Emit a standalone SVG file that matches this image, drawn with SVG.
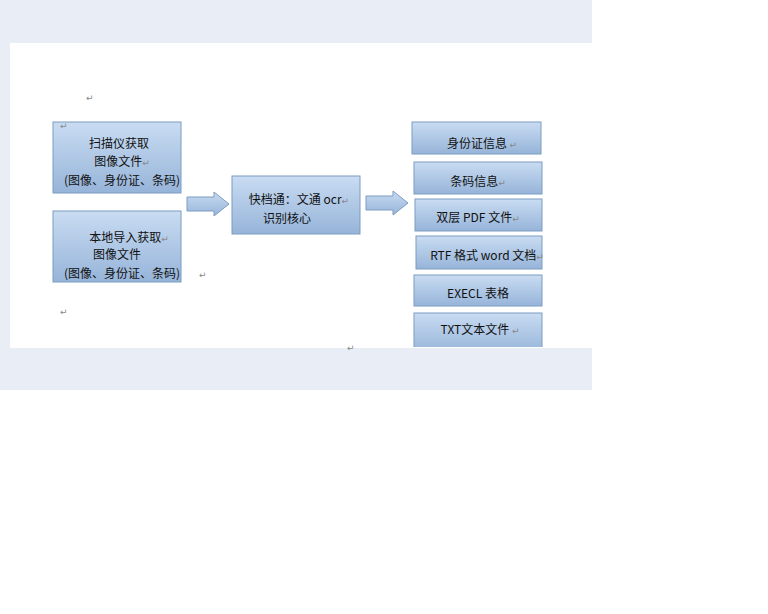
<svg xmlns="http://www.w3.org/2000/svg" width="768" height="614" viewBox="0 0 768 614">
<defs>
<linearGradient id="g" x1="0" y1="0" x2="0" y2="1"><stop offset="0" stop-color="#c9dcf2"/><stop offset="1" stop-color="#96b4d9"/></linearGradient>
<clipPath id="pg"><rect x="10" y="43" width="582" height="304"/></clipPath>
</defs>
<style>
.b{fill:url(#g);stroke:#7d9cc2;stroke-width:1}
.t{font-family:"Noto Sans CJK SC","Liberation Sans",sans-serif;font-size:12px;fill:#111;text-anchor:middle}
.m{font-family:"DejaVu Sans",sans-serif;font-size:9px;fill:#888}
</style>
<rect width="768" height="614" fill="#fff"/>
<rect x="0" y="0" width="592" height="390" fill="#e9eef6"/>
<rect x="10" y="43" width="582" height="305" fill="#fff"/>
<text class="m" x="86" y="101">↵</text>
<text class="m" x="60" y="315">↵</text>
<text class="m" x="347" y="351">↵</text>
<g clip-path="url(#pg)">
<g id="n1"><rect class="b" x="53" y="122" width="128" height="71"/><text class="m" x="60" y="129">↵</text>
<text class="t" x="119" y="148">扫描仪获取</text><text class="t" x="122" y="166">图像文件<tspan class="m">↵</tspan></text><text class="t" x="122" y="185">(图像、身份证、条码)</text></g>
<g id="n2"><rect class="b" x="53" y="211" width="128" height="71"/>
<text class="t" x="129" y="242">本地导入获取<tspan class="m">↵</tspan></text><text class="t" x="117" y="259">图像文件</text><text class="t" x="122" y="278">(图像、身份证、条码)</text><text class="m" x="199" y="278">↵</text></g>
<g id="n3"><rect class="b" x="232" y="176" width="128" height="58"/>
<text class="t" x="299" y="204">快档通：文通 ocr<tspan class="m">↵</tspan></text><text class="t" x="287" y="223">识别核心</text></g>
<g id="r1"><rect class="b" x="412" y="122" width="129" height="32"/><text class="t" x="482" y="148">身份证信息 <tspan class="m">↵</tspan></text></g>
<g id="r2"><rect class="b" x="414" y="162" width="128" height="32"/><text class="t" x="478" y="186">条码信息<tspan class="m">↵</tspan></text></g>
<g id="r3"><rect class="b" x="415" y="199" width="127" height="32"/><text class="t" x="478" y="222">双层 PDF 文件<tspan class="m">↵</tspan></text></g>
<g id="r4"><rect class="b" x="416" y="236" width="126" height="33"/><text class="t" x="487" y="260" font-size="11.5">RTF 格式 word 文档<tspan class="m">↵</tspan></text></g>
<g id="r5"><rect class="b" x="414" y="275" width="128" height="31"/><text class="t" x="478" y="298">EXECL 表格</text></g>
<g id="r6"><rect class="b" x="414" y="313" width="128" height="40"/><text class="t" x="480" y="334">TXT文本文件 <tspan class="m">↵</tspan></text></g>
</g>
<g id="connectors">
<path class="b" d="M187,197 H214 V192 L229,204 L214,216 V211 H187 Z"/>
<path class="b" d="M366,196 H393 V191 L408,203 L393,215 V210 H366 Z"/>
</g>
</svg>
